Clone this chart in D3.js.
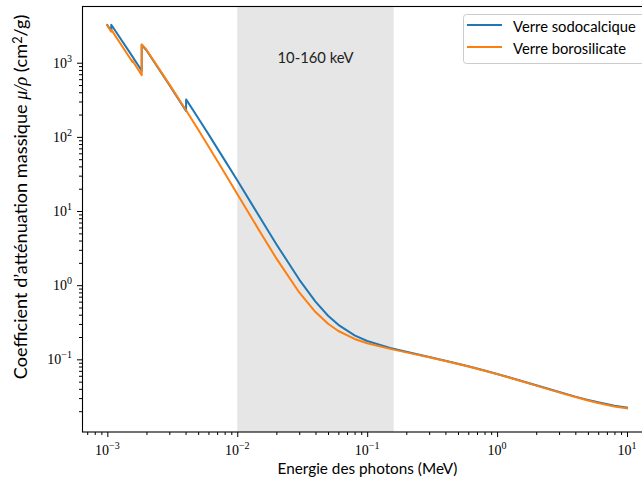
<!DOCTYPE html>
<html><head><meta charset="utf-8">
<script src="https://cdn.jsdelivr.net/npm/d3@7"></script>
<style>body{margin:0;background:#fff} svg{display:block}</style>
</head><body>
<svg id="c" width="642" height="482"></svg>
<script>
// ---- data (energy in MeV, mass attenuation coefficient in cm2/g) ----
const energySoda = [0.001, 0.0010721, 0.0010721, 0.0015, 0.0018389, 0.0018389, 0.002, 0.003, 0.004, 0.0040381, 0.0040381, 0.005, 0.006, 0.008, 0.01, 0.015, 0.02, 0.03, 0.04, 0.05, 0.06, 0.08, 0.1, 0.15, 0.2, 0.3, 0.4, 0.5, 0.6, 0.8, 1, 1.25, 1.5, 2, 3, 4, 5, 6, 8, 10];
const muSoda = [3224, 2679, 3247, 1346, 778, 1748, 1472, 502.3, 228.7, 222.7, 320.1, 180.1, 108.9, 48.58, 25.93, 8.104, 3.571, 1.191, 0.6007, 0.3874, 0.2917, 0.2103, 0.1767, 0.1426, 0.1263, 0.1077, 0.0958, 0.0872, 0.0806, 0.0706, 0.0635, 0.0568, 0.0517, 0.0446, 0.0362, 0.0314, 0.0284, 0.0263, 0.0237, 0.0224];
const energyBoro = [0.001, 0.0010721, 0.0010721, 0.0015, 0.0015596, 0.0015596, 0.0018389, 0.0018389, 0.002, 0.003, 0.004, 0.005, 0.006, 0.008, 0.01, 0.015, 0.02, 0.03, 0.04, 0.05, 0.06, 0.08, 0.1, 0.15, 0.2, 0.3, 0.4, 0.5, 0.6, 0.8, 1, 1.25, 1.5, 2, 3, 4, 5, 6, 8, 10];
const muBoro = [3164, 2626, 2792, 1141, 1027, 1069, 681, 1768, 1496, 511.0, 234.5, 125.6, 74.79, 32.62, 17.02, 5.213, 2.296, 0.7979, 0.4334, 0.3014, 0.2410, 0.1882, 0.1649, 0.1383, 0.1241, 0.1065, 0.0949, 0.0865, 0.0800, 0.0702, 0.0631, 0.0564, 0.0514, 0.0442, 0.0358, 0.0310, 0.0279, 0.0258, 0.0231, 0.0218];
const seriesNames = ["Verre sodocalcique", "Verre borosilicate"];
const xTickExps = [-3, -2, -1, 0, 1];
const yTickExps = [-1, 0, 1, 2, 3];
const spanRange = [0.01, 0.16];
const spanLabel = "10-160 keV";
const spanLabelPos = [0.04, 1000];
const xLabel = "Energie des photons (MeV)";

// ---- layout ----
const L = 82, T = 6, R = 653, B = 432;
const svg = d3.select("#c");
const x = d3.scaleLog().domain([Math.pow(10, -3.195), Math.pow(10, 1.2)]).range([L, R]);
const y = d3.scaleLog().domain([Math.pow(10, -1.98), Math.pow(10, 3.765)]).range([B, T]);
const colors = ["#1f77b4", "#ff7f0e"];
const sans = "Lato, 'Liberation Sans', sans-serif";
const serif = "'Liberation Serif', 'DejaVu Serif', serif";

svg.append("defs").append("clipPath").attr("id", "clip")
  .append("rect").attr("x", L).attr("y", T).attr("width", R - L).attr("height", B - T);

const plot = svg.append("g").attr("clip-path", "url(#clip)");
plot.append("rect")
  .attr("x", x(spanRange[0])).attr("y", T)
  .attr("width", x(spanRange[1]) - x(spanRange[0])).attr("height", B - T)
  .attr("fill", "#808080").attr("fill-opacity", 0.2);

const line = d3.line().x(d => x(d[0])).y(d => y(d[1]));
const series = [d3.zip(energySoda, muSoda), d3.zip(energyBoro, muBoro)];
series.forEach((s, i) => {
  plot.append("path").datum(s).attr("d", line)
    .attr("fill", "none").attr("stroke", colors[i]).attr("stroke-width", 2)
    .attr("stroke-linejoin", "round").attr("stroke-linecap", "square");
});

function fit(sel, target) {
  const fs = parseFloat(sel.attr("font-size"));
  const w = sel.node().getComputedTextLength();
  const nf = fs * target / w;
  sel.attr("font-size", nf);
  return nf;
}

// span label
const st = svg.append("text")
  .attr("x", x(spanLabelPos[0])).attr("y", y(spanLabelPos[1]))
  .attr("text-anchor", "middle").attr("font-family", sans).attr("font-size", 14)
  .attr("fill", "#222").text(spanLabel);
fit(st, 76);

// minor tick values
function minors(scale) {
  const [a, b] = scale.domain();
  const out = [];
  for (let k = -5; k <= 2; k++) for (let j = 2; j <= 9; j++) {
    const v = j * Math.pow(10, k);
    if (v >= a && v <= b) out.push(v);
  }
  return out;
}

// x axis
const xMajor = xTickExps.map(e => Math.pow(10, e));
const gx = svg.append("g").attr("transform", `translate(0,${B})`);
gx.call(d3.axisBottom(x).tickValues(minors(x)).tickSize(3).tickFormat(""));
const gx2 = svg.append("g").attr("transform", `translate(0,${B})`);
gx2.call(d3.axisBottom(x).tickValues(xMajor).tickSize(5).tickFormat(""));
[gx, gx2].forEach(g => { g.select(".domain").remove(); g.selectAll("line").attr("stroke", "#000"); });
xTickExps.forEach(e => {
  const t = svg.append("text").attr("x", x(Math.pow(10, e))).attr("y", B + 23)
    .attr("text-anchor", "middle").attr("font-family", serif).attr("font-size", 14).attr("fill", "#000");
  t.append("tspan").text("10");
  t.append("tspan").attr("font-size", 10).attr("dy", -6).text(e < 0 ? "\u2212" + (-e) : String(e));
});

// y axis
const yMajor = yTickExps.map(e => Math.pow(10, e));
const gy = svg.append("g").attr("transform", `translate(${L},0)`);
gy.call(d3.axisLeft(y).tickValues(minors(y)).tickSize(3).tickFormat(""));
const gy2 = svg.append("g").attr("transform", `translate(${L},0)`);
gy2.call(d3.axisLeft(y).tickValues(yMajor).tickSize(5).tickFormat(""));
[gy, gy2].forEach(g => { g.select(".domain").remove(); g.selectAll("line").attr("stroke", "#000"); });
yTickExps.forEach(e => {
  const t = svg.append("text").attr("x", 72).attr("y", y(Math.pow(10, e)) + 5)
    .attr("text-anchor", "end").attr("font-family", serif).attr("font-size", 14).attr("fill", "#000");
  t.append("tspan").text("10");
  t.append("tspan").attr("font-size", 10).attr("dy", -6).text(e < 0 ? "\u2212" + (-e) : String(e));
});

// spines
svg.append("rect").attr("x", L + 0.5).attr("y", T + 0.5).attr("width", R - L - 1).attr("height", B - T - 0.5)
  .attr("fill", "none").attr("stroke", "#000").attr("stroke-width", 1.1);

// axis labels
const xl = svg.append("text").attr("x", (L + R) / 2).attr("y", 474)
  .attr("text-anchor", "middle").attr("font-family", sans).attr("font-size", 14).attr("fill", "#000").text(xLabel);
fit(xl, 180);

const yl = svg.append("text").attr("transform", "translate(27,197) rotate(-90)")
  .attr("text-anchor", "middle").attr("font-family", sans).attr("font-size", 14).attr("fill", "#000");
yl.append("tspan").text("Coefficient d\u2019atténuation massique ");
yl.append("tspan").attr("font-family", serif).attr("font-style", "italic").text("\u03bc/\u03c1");
yl.append("tspan").text(" (cm");
yl.append("tspan").attr("font-size", "0.7em").attr("dy", "-0.4em").text("2");
yl.append("tspan").attr("dy", "0.28em").text("/g)");
fit(yl, 365);

// legend
const lg = svg.append("g");
lg.append("rect").attr("x", 463.5).attr("y", 14.5).attr("width", 182).attr("height", 49).attr("rx", 3)
  .attr("fill", "#fff").attr("fill-opacity", 0.8).attr("stroke", "#cccccc").attr("stroke-width", 1);
const legY = [25, 47];
let lfs = null;
seriesNames.forEach((n, i) => {
  lg.append("line").attr("x1", 467).attr("x2", 502).attr("y1", legY[i]).attr("y2", legY[i])
    .attr("stroke", colors[i]).attr("stroke-width", 2);
  const t = lg.append("text").attr("x", 513).attr("y", legY[i] + 6.5)
    .attr("font-family", sans).attr("font-size", lfs || 14).attr("fill", "#000").text(n);
  if (i === 0) lfs = fit(t, 123);
});
</script>
</body></html>
